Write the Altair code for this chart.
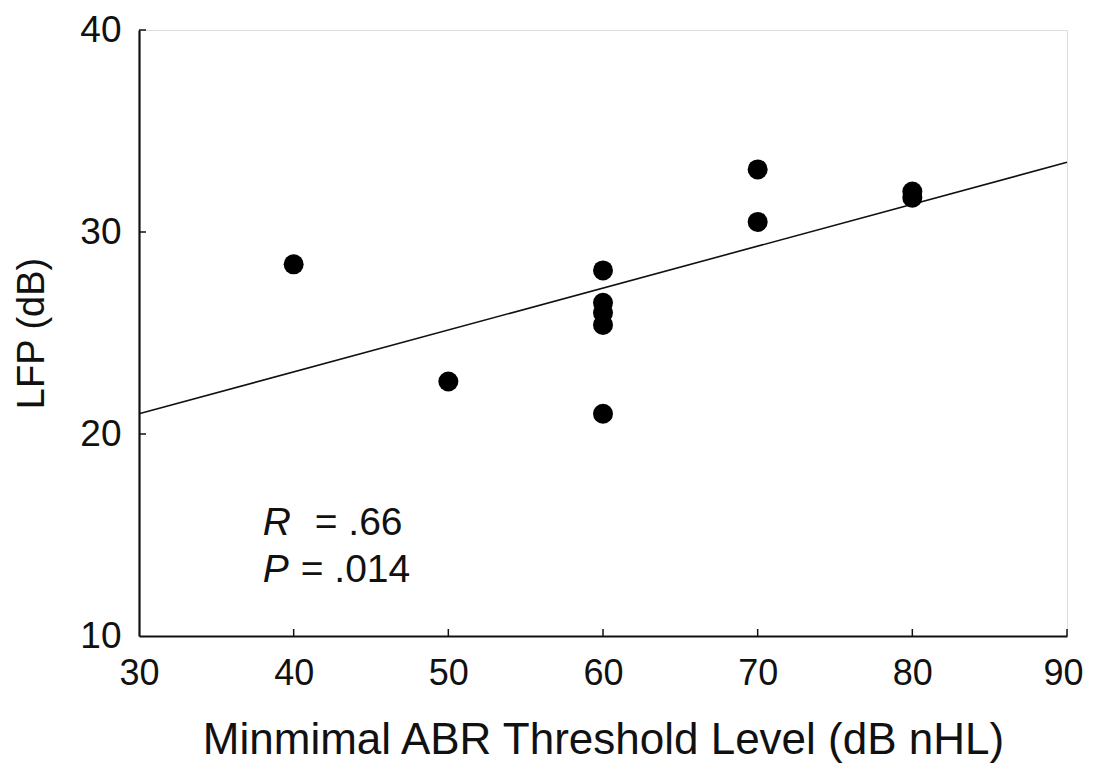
import altair as alt
import pandas as pd

# data
abr = [40, 50, 60, 60, 60, 60, 60, 70, 70, 80, 80]
lfp = [28.4, 22.6, 28.1, 26.5, 26.0, 25.4, 21.0, 33.1, 30.5, 32.0, 31.7]
fit_x = [30, 90]
fit_y = [21.0, 33.45]
x_ticks = [30, 40, 50, 60, 70, 80, 90]
y_ticks = [10, 20, 30, 40]
stat_letters = ["R", "P"]
stat_values = ["= .66", "= .014"]
stat_x = [38, 38]
stat_y = [15.6, 13.25]

pts = pd.DataFrame({"abr": abr, "lfp": lfp})
fit = pd.DataFrame({"abr": fit_x, "lfp": fit_y})
stats = pd.DataFrame({"letter": stat_letters, "value": stat_values, "abr": stat_x, "lfp": stat_y})
xt = pd.DataFrame({"abr": [v for v in x_ticks if v > 30]})
yt = pd.DataFrame({"lfp": [v for v in y_ticks if v > 10]})

FONT = "Liberation Sans"

xs = alt.Scale(domain=[30, 90], nice=False, zero=False)
ys = alt.Scale(domain=[10, 40], nice=False, zero=False)

xaxis = alt.Axis(values=x_ticks, title="Minmimal ABR Threshold Level (dB nHL)", ticks=False,
                 labelFontSize=36, labelPadding=20, titleFontSize=44, titlePadding=27,
                 labelOffset={"condition": {"test": "datum.value == 90", "value": -4}, "value": 0},
                 labelFont=FONT, titleFont=FONT, titleFontWeight="normal",
                 labelColor="#111", titleColor="#111", domainColor="#111", domainWidth=2.2,
                 grid=False, labelFlush=False)
yaxis = alt.Axis(values=y_ticks, title="LFP (dB)", ticks=False,
                 labelFontSize=37, labelPadding=18, titleFontSize=38, titlePadding=28,
                 labelFont=FONT, titleFont=FONT, titleFontWeight="normal",
                 labelColor="#111", titleColor="#111", domainColor="#111", domainWidth=2.2,
                 grid=False, labelFlush=False)

points = alt.Chart(pts).mark_circle(size=400, color="#000", opacity=1).encode(
    x=alt.X("abr:Q", scale=xs, axis=xaxis),
    y=alt.Y("lfp:Q", scale=ys, axis=yaxis),
)

line = alt.Chart(fit).mark_line(color="#111", strokeWidth=1.6).encode(
    x=alt.X("abr:Q", scale=xs), y=alt.Y("lfp:Q", scale=ys)
)

xtick = alt.Chart(xt).mark_rule(color="#111", strokeWidth=1.5).encode(
    x=alt.X("abr:Q", scale=xs), y=alt.value(606), y2=alt.value(599)
)
ytick = alt.Chart(yt).mark_rule(color="#111", strokeWidth=1.5).encode(
    y=alt.Y("lfp:Q", scale=ys), x=alt.value(0), x2=alt.value(7)
)

letters = alt.Chart(stats).mark_text(font=FONT, fontSize=39, fontStyle="italic", align="left",
                                     baseline="middle", color="#111").encode(
    x=alt.X("abr:Q", scale=xs), y=alt.Y("lfp:Q", scale=ys), text="letter:N"
)
values_r = alt.Chart(stats).transform_filter(alt.datum.letter == "R").mark_text(
    font=FONT, fontSize=39, align="left", baseline="middle", dx=52, color="#111").encode(
    x=alt.X("abr:Q", scale=xs), y=alt.Y("lfp:Q", scale=ys), text="value:N"
)
values_p = alt.Chart(stats).transform_filter(alt.datum.letter == "P").mark_text(
    font=FONT, fontSize=39, align="left", baseline="middle", dx=38, color="#111").encode(
    x=alt.X("abr:Q", scale=xs), y=alt.Y("lfp:Q", scale=ys), text="value:N"
)

chart = alt.layer(line, points, xtick, ytick, letters, values_r, values_p).properties(
    width=928, height=606,
    autosize=alt.AutoSizeParams(type="none"),
    padding={"left": 131, "top": 22, "right": 18, "bottom": 130},
).configure_view(stroke=None).configure(background="white")

chart.save("out.html", embed_options={"renderer": "svg", "actions": False})
